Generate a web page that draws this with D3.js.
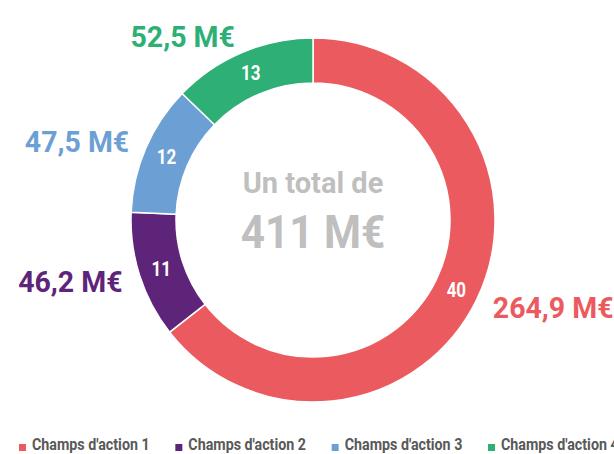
<!DOCTYPE html>
<html>
<head>
<meta charset="utf-8">
<script src="https://cdn.jsdelivr.net/npm/d3@7"></script>
<style>
  body { margin: 0; background: #fff; overflow: hidden; }
  svg text { font-family: Roboto, "DejaVu Sans Condensed", sans-serif; font-weight: bold; }
</style>
</head>
<body>
<div id="canvas"></div>
<script>
//chart data
var categories = ["Champs d'action 1", "Champs d'action 2", "Champs d'action 3", "Champs d'action 4"];
var amounts = [264.9, 46.2, 47.5, 52.5];
var amountLabels = ['264,9 M€', '46,2 M€', '47,5 M€', '52,5 M€'];
var innerLabels = ['40', '11', '12', '13'];
var colors = ['#EB5A5E', '#5E2479', '#6CA0D4', '#2EAF76'];
var totalLabel = ['Un total de', '411 M€'];

//canvas
var cv = {
  'width': 614,
  'height': 454,
  'cx': 313,
  'cy': 220,
  'outer': 182,
  'inner': 137
};

var svg = d3.select('#canvas').append('svg')
  .attr('width', cv.width)
  .attr('height', cv.height)
  .style('display', 'block');

var slices = categories.map(function(c, i) {
  return {name: c, value: amounts[i], label: amountLabels[i], inner: innerLabels[i], color: colors[i]};
});

var pie = d3.pie()
  .sort(null)
  .value(d => d.value);

var arc = d3.arc()
  .innerRadius(cv.inner)
  .outerRadius(cv.outer);

var g = svg.append('g')
  .attr('transform', 'translate(' + cv.cx + ',' + cv.cy + ')');

var arcs = pie(slices);

//donut slices
g.selectAll('.slice')
  .data(arcs)
  .enter().append('path')
  .attr('class', 'slice')
  .attr('d', arc)
  .attr('fill', d => d.data.color)
  .attr('stroke', '#fff')
  .attr('stroke-width', 1.5);

//numbers inside ring
g.selectAll('.inner-label')
  .data(arcs)
  .enter().append('text')
  .attr('class', 'inner-label')
  .attr('transform', function(d) {
    var c = arc.centroid(d);
    return 'translate(' + c[0] + ',' + c[1] + ') scale(0.85,1)';
  })
  .attr('text-anchor', 'middle')
  .attr('dy', '0.36em')
  .attr('fill', '#fff')
  .style('font-size', '20px')
  .text(d => d.data.inner);

//amounts outside ring
var labelR = 200;
g.selectAll('.outer-label')
  .data(arcs)
  .enter().append('text')
  .attr('class', 'outer-label')
  .attr('transform', function(d) {
    var a = (d.startAngle + d.endAngle) / 2;
    return 'translate(' + (Math.sin(a) * labelR) + ',' + (-Math.cos(a) * labelR) + ') scale(0.95,1)';
  })
  .attr('text-anchor', function(d) {
    var a = (d.startAngle + d.endAngle) / 2;
    return a < Math.PI ? 'start' : 'end';
  })
  .attr('dy', '0.36em')
  .attr('fill', d => d.data.color)
  .style('font-size', '30px')
  .text(d => d.data.label);

//total in the middle
g.append('text')
  .attr('y', -27)
  .attr('text-anchor', 'middle')
  .attr('fill', '#BFBFBF')
  .style('font-size', '29px')
  .text(totalLabel[0]);

g.append('text')
  .attr('transform', 'translate(0,28) scale(0.92,1)')
  .attr('text-anchor', 'middle')
  .attr('fill', '#BFBFBF')
  .style('font-size', '46px')
  .text(totalLabel[1]);

//legend
var legendX = d3.scalePoint()
  .domain(categories)
  .range([19, 488]);

var legend = svg.selectAll('.legend')
  .data(slices)
  .enter().append('g')
  .attr('class', 'legend')
  .attr('transform', d => 'translate(' + legendX(d.name) + ',444)');

legend.append('rect')
  .attr('width', 7)
  .attr('height', 7)
  .attr('fill', d => d.color);

legend.append('text')
  .attr('transform', 'translate(13,6) scale(0.84,1)')
  .attr('fill', '#595959')
  .style('font-size', '17px')
  .text(d => d.name);
</script>
</body>
</html>
